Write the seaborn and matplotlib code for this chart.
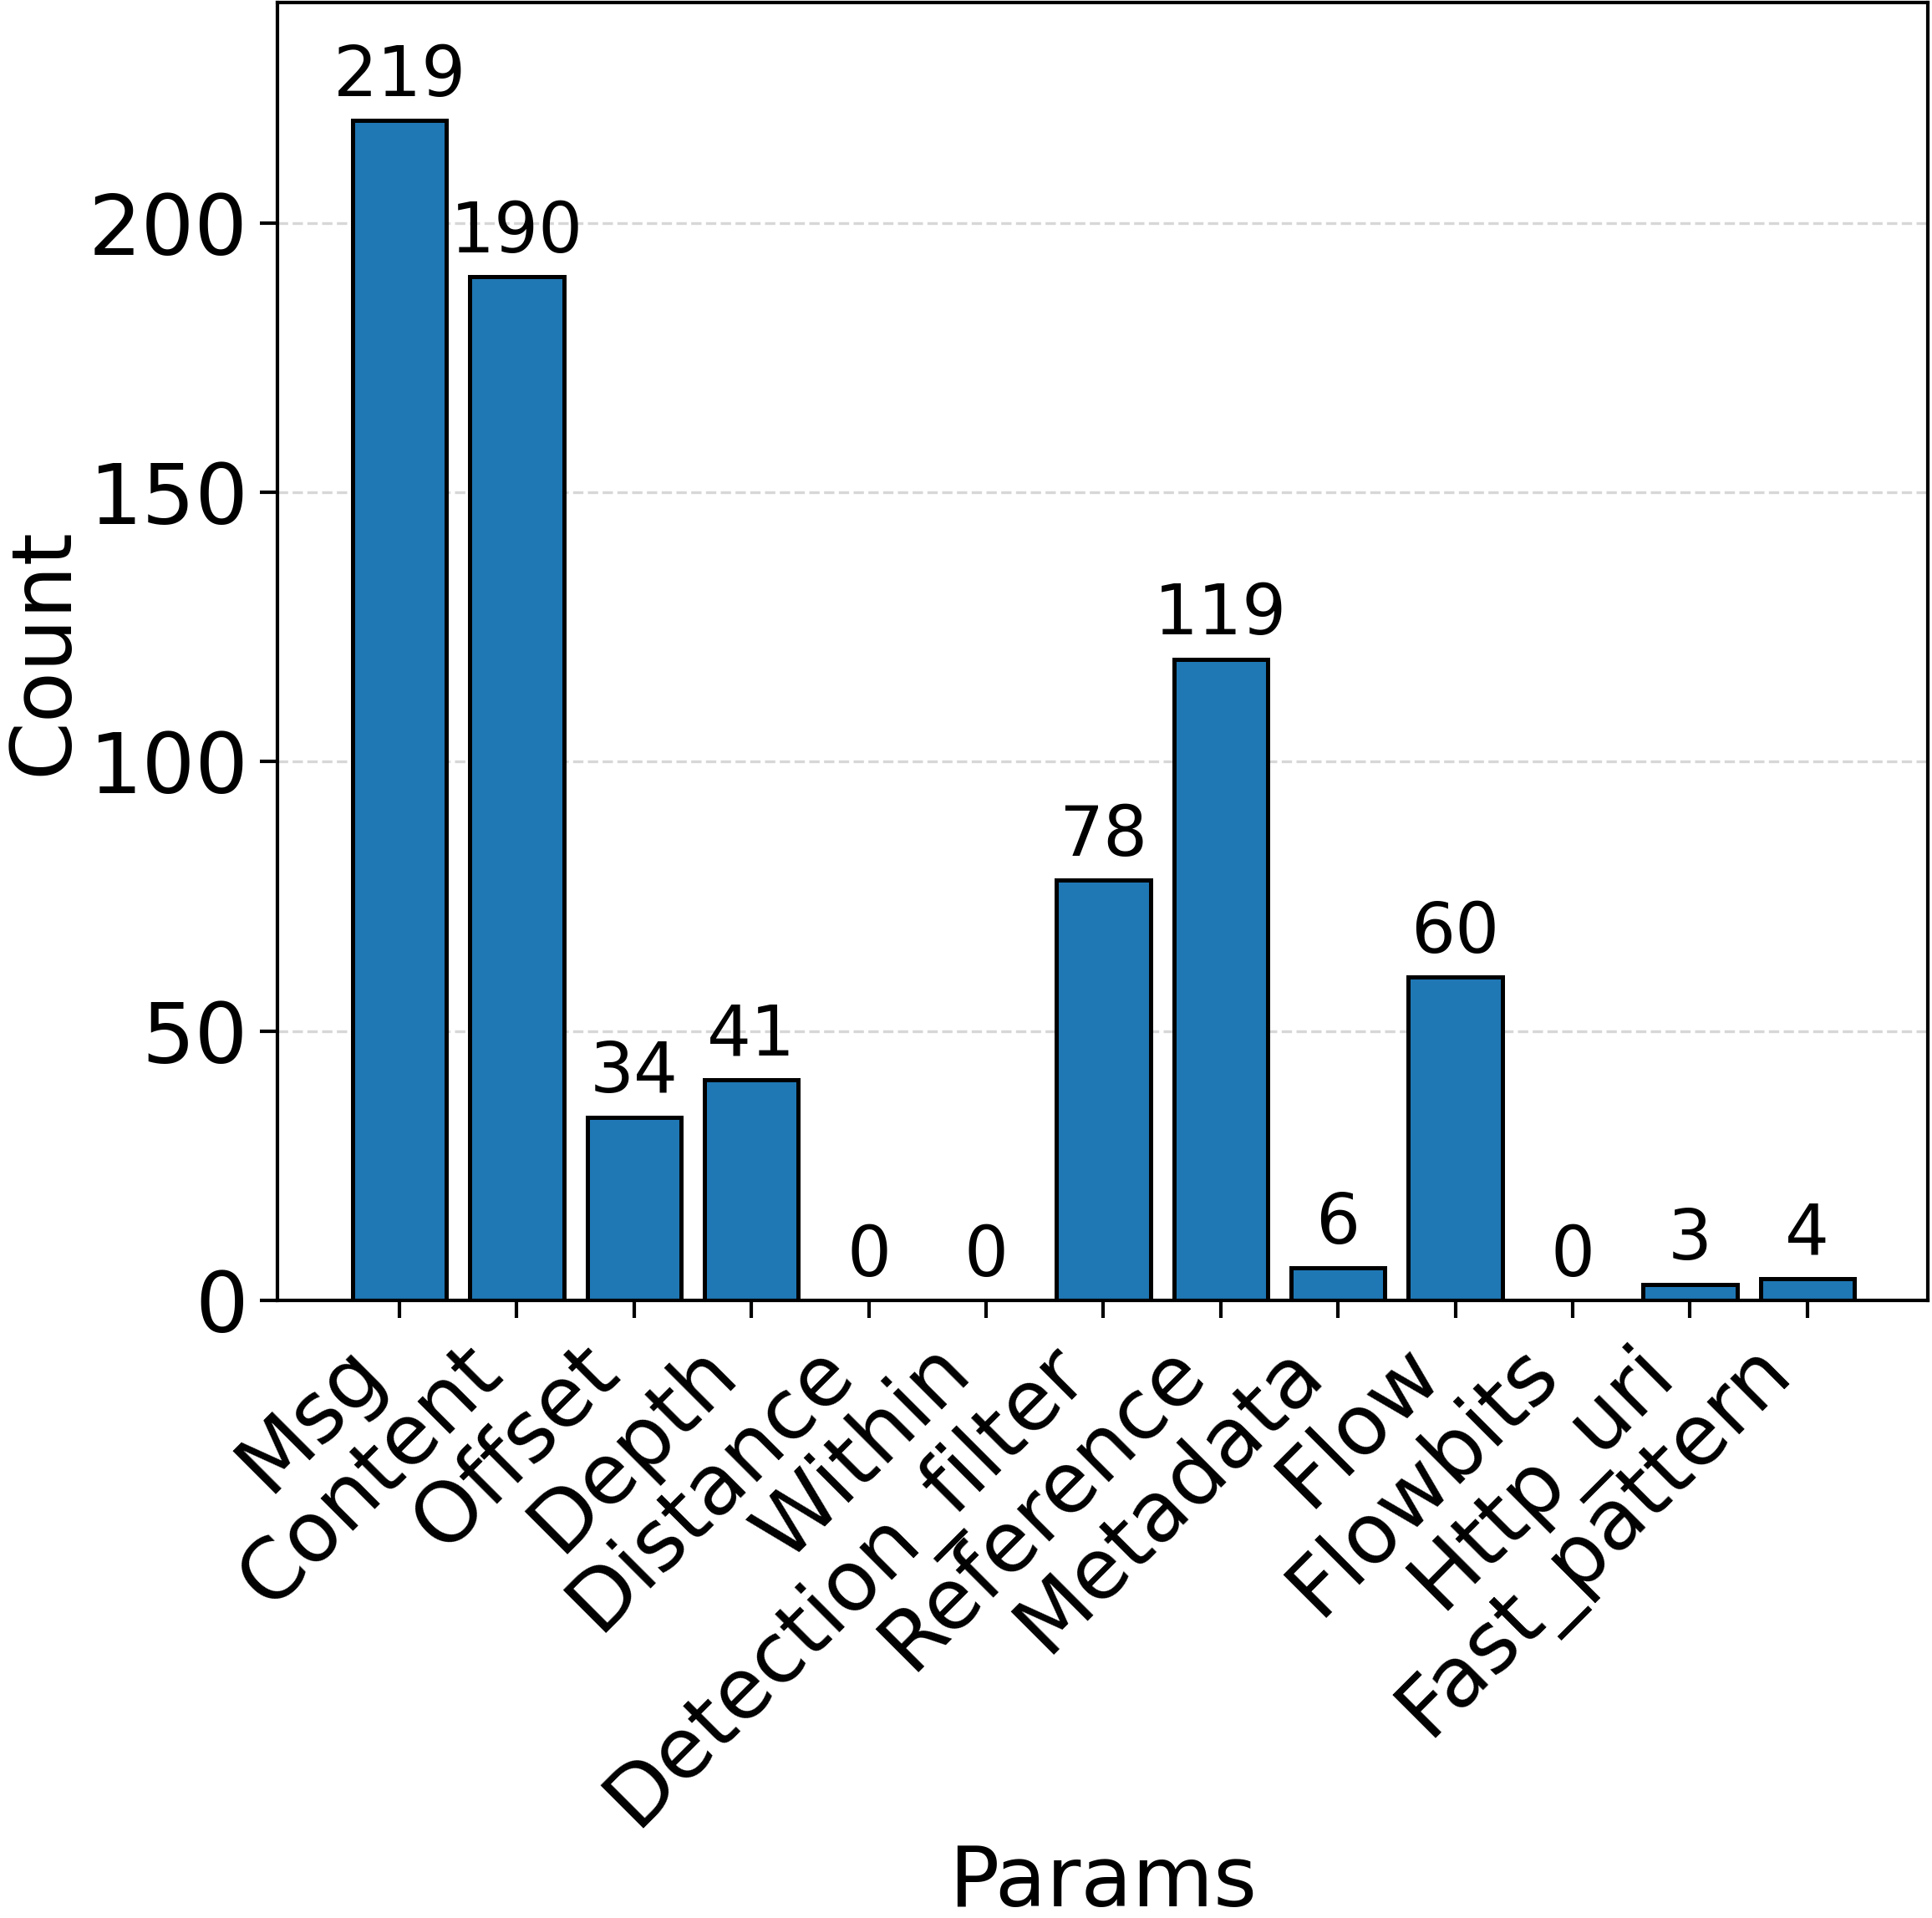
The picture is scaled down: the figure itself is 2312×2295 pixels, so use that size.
import numpy as np
import pandas as pd
import matplotlib
matplotlib.use('Agg')
import matplotlib.pyplot as plt
import seaborn as sns

# data
params = ['Msg', 'Content', 'Offset', 'Depth', 'Distance', 'Within',
          'Detection_filter', 'Reference', 'Metadata', 'Flow', 'Flowbits',
          'Http_uri', 'Fast_pattern']
counts = [219, 190, 34, 41, 0, 0, 78, 119, 6, 60, 0, 3, 4]

df = pd.DataFrame({'Params': params, 'Count': counts})

sns.set_style('white')
plt.rcParams['font.family'] = ['DejaVu Sans']
plt.rcParams['text.color'] = 'black'
plt.rcParams['axes.labelcolor'] = 'black'
plt.rcParams['xtick.color'] = 'black'
plt.rcParams['ytick.color'] = 'black'

fig = plt.figure(figsize=(2312 / 300, 2295 / 300), dpi=300)
ax = fig.add_axes([0.1436, 0.322, 0.8544, 0.6767])

sns.barplot(data=df, x='Params', y='Count', color='#1f77b4',
            saturation=1, edgecolor='black', linewidth=1.2, width=0.8, ax=ax)

for c in ax.containers:
    ax.bar_label(c, fontsize=20, padding=3, color='black')

ax.set_ylim(0, max(counts) * 1.1)
ax.set_xlim(-1.04, 13.03)
ax.yaxis.grid(True, linestyle='--', color='lightgray', alpha=0.9)
ax.set_axisbelow(True)

for s in ax.spines.values():
    s.set_color('black')
    s.set_linewidth(1.0)

ax.tick_params(axis='both', which='both', bottom=True, left=True,
               length=5, width=1, labelsize=24)
plt.setp(ax.get_xticklabels(), rotation=45, ha='right')

ax.set_xlabel('Params', fontsize=24, labelpad=0)
ax.set_ylabel('Count', fontsize=24, labelpad=1)

fig.savefig('out.png', dpi=300)
